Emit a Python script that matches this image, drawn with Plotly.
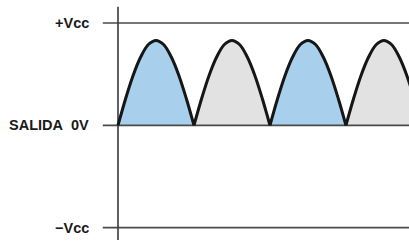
import plotly.graph_objects as go

# Levels (in units of Vcc) and labels
levels = [1.0, 0.0, -1.0]
level_labels = ["+Vcc", "SALIDA\u00a0\u00a00V", "\u2212Vcc"]

# Hump starts (in half-period units) and fill colours
hump_starts = [0, 1, 2, 3]
hump_colors = ["#a8cfeb", "#e2e2e2", "#a8cfeb", "#e2e2e2"]

# One hump profile (fraction of half-period -> height in Vcc)
profile_x = [0.0, 0.1, 0.2, 0.3, 0.4, 0.5, 0.6, 0.7, 0.8, 0.9, 1.0]
profile_y = [0.0, 0.26, 0.49, 0.67, 0.79, 0.83, 0.79, 0.67, 0.49, 0.26, 0.0]

x_min, x_max = -1.553, 3.83
y_min, y_max = -1.14, 1.225

fig = go.Figure()

# fills
for s, c in zip(hump_starts, hump_colors):
    xs = [s + px for px in profile_x]
    fig.add_trace(go.Scatter(x=xs, y=profile_y, mode="lines", fill="toself",
                             fillcolor=c, line=dict(width=0, color=c, shape="spline"),
                             hoverinfo="skip", showlegend=False))

# level lines
line_start = -0.2
for lv in levels:
    fig.add_trace(go.Scatter(x=[line_start, x_max + 0.1], y=[lv, lv], mode="lines",
                             line=dict(color="#4a4a4a", width=1.6),
                             hoverinfo="skip", showlegend=False))

# vertical axis
fig.add_trace(go.Scatter(x=[0, 0], y=[-1.12, 1.16], mode="lines",
                         line=dict(color="#3a3a3a", width=1.6),
                         hoverinfo="skip", showlegend=False))

# hump outlines
for s in hump_starts:
    xs = [s + px for px in profile_x]
    fig.add_trace(go.Scatter(x=xs, y=profile_y, mode="lines",
                             line=dict(color="#161616", width=3, shape="spline"),
                             hoverinfo="skip", showlegend=False))

# labels
for lv, lab in zip(levels, level_labels):
    fig.add_annotation(x=-0.35, y=lv, xref="x", yref="y", text="<b>%s</b>" % lab,
                       showarrow=False, xanchor="right", yanchor="middle",
                       font=dict(family="Liberation Sans, Arial", size=14.5, color="#1a1a1a"))

fig.update_xaxes(range=[x_min, x_max], visible=False, fixedrange=True)
fig.update_yaxes(range=[y_min, y_max], visible=False, fixedrange=True)
fig.update_layout(width=409, height=242, margin=dict(l=0, r=0, t=0, b=0),
                  plot_bgcolor="white", paper_bgcolor="white", hovermode=False)

fig.write_html("out.html", config={"displayModeBar": False, "staticPlot": True})

# remove the default page margin so the figure sits at the window origin
with open("out.html", "r", encoding="utf-8") as f:
    html = f.read()
html = html.replace("<body>", '<body style="margin:0;overflow:hidden">', 1)
with open("out.html", "w", encoding="utf-8") as f:
    f.write(html)
